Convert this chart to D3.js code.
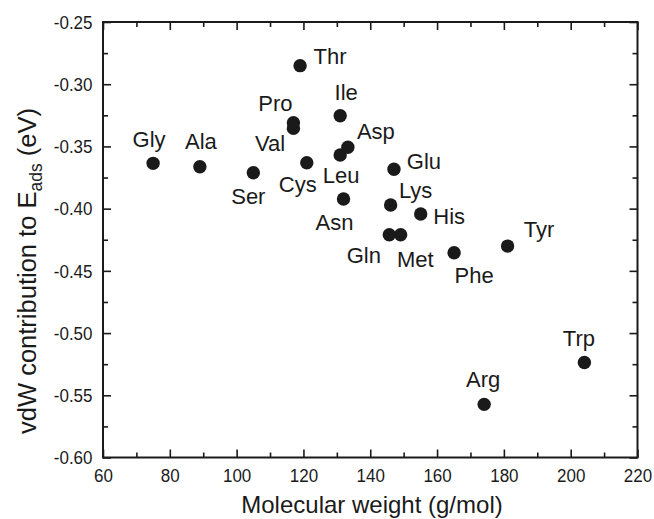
<!DOCTYPE html>
<html>
<head>
<meta charset="utf-8">
<script src="https://cdn.jsdelivr.net/npm/d3@7/dist/d3.min.js"></script>
<style>
  html, body { margin: 0; padding: 0; background: #fff; }
  svg { display: block; }
  text { font-family: "Liberation Sans", Arial, Helvetica, sans-serif; fill: #1a1a1a; }
</style>
</head>
<body>
<svg id="chart" width="654" height="519"></svg>
<script>
// ---- data ----
const aminoAcids = ["Gly","Ala","Ser","Pro","Val","Thr","Cys","Leu","Ile","Asn","Asp","Gln","Lys","Glu","Met","His","Phe","Arg","Tyr","Trp"];
const molecularWeight = [75, 89, 105, 117, 117, 119, 121, 131, 131, 132, 133.3, 145.7, 146.1, 147.1, 149.1, 155.1, 165.1, 174.1, 181.1, 204.1];
const vdwContribution = [-0.3636, -0.3663, -0.3711, -0.331, -0.3355, -0.2851, -0.3631, -0.3569, -0.3253, -0.3923, -0.3507, -0.421, -0.3971, -0.3684, -0.421, -0.4043, -0.4354, -0.5573, -0.4301, -0.5236];
const xTickValues = [60, 80, 100, 120, 140, 160, 180, 200, 220];
const yTickValues = [-0.25, -0.30, -0.35, -0.40, -0.45, -0.50, -0.55, -0.60];
const xTickLabels = ["60","80","100","120","140","160","180","200","220"];
const yTickLabels = ["-0.25","-0.30","-0.35","-0.40","-0.45","-0.50","-0.55","-0.60"];

// label placement offsets (pixels, relative to the dot), same order as aminoAcids
const labelOffsets = [
  [-4,-16.6],[1,-17.4],[-5,31.3],[-18,-12],[-23.3,22.4],[30,-2],[-9,29],[1,28.3],[6,-15.7],[-9,31],
  [28,-8],[-25.5,28],[25,-6.7],[30,0],[14.6,32],[28.5,10.3],[20,30],[-1,-17],[31.4,-9.3],[-5.5,-16.3]
];

// ---- layout ----
const svg = d3.select("#chart");
const L = 103, R = 637.5, T = 22, B = 457.5;
const x = d3.scaleLinear().domain([60, 220]).range([L, R]);
const y = d3.scaleLinear().domain([-0.60, -0.25]).range([B, T]);

const xMinor = d3.range(70, 220, 20);
const yMinor = d3.range(-0.575, -0.25, 0.05);
const col = "#1a1a1a";
const stretch = 1.12;

function styleAxis(g) {
  g.select(".domain").remove();
  g.selectAll(".tick line").attr("stroke", col).attr("stroke-width", 1.6);
}

// major ticks with labels (bottom/left), inward
svg.append("g").attr("transform", `translate(0,${B})`)
  .call(d3.axisBottom(x).tickValues(xTickValues).tickSizeInner(-8).tickSizeOuter(0).tickPadding(0)
        .tickFormat((d,i) => xTickLabels[i]))
  .call(styleAxis)
  .call(g => g.selectAll(".tick text").attr("y", 24.3 / stretch).attr("dy", null).attr("fill", col)
        .attr("transform", `scale(1,${stretch})`)
        .style("font-size", "17px").style("font-family", "'Liberation Sans', Arial, sans-serif"));

svg.append("g").attr("transform", `translate(${L},0)`)
  .call(d3.axisLeft(y).tickValues(yTickValues).tickSizeInner(-8).tickSizeOuter(0).tickPadding(0)
        .tickFormat((d,i) => yTickLabels[i]))
  .call(styleAxis)
  .call(g => g.selectAll(".tick text").attr("x", -10.5).attr("y", -0.6).attr("dy", "0.36em").attr("fill", col)
        .attr("transform", `scale(1,${stretch})`)
        .style("font-size", "17px").style("font-family", "'Liberation Sans', Arial, sans-serif"));

// mirrored ticks top/right
svg.append("g").attr("transform", `translate(0,${T})`)
  .call(d3.axisTop(x).tickValues(xTickValues).tickSizeInner(-8).tickSizeOuter(0).tickFormat(""))
  .call(styleAxis);
svg.append("g").attr("transform", `translate(${R},0)`)
  .call(d3.axisRight(y).tickValues(yTickValues).tickSizeInner(-8).tickSizeOuter(0).tickFormat(""))
  .call(styleAxis);

// minor ticks on all sides
[[d3.axisBottom, B], [d3.axisTop, T]].forEach(([fn, pos]) => {
  svg.append("g").attr("transform", `translate(0,${pos})`)
    .call(fn(x).tickValues(xMinor).tickSizeInner(-5).tickSizeOuter(0).tickFormat(""))
    .call(styleAxis);
});
[[d3.axisLeft, L], [d3.axisRight, R]].forEach(([fn, pos]) => {
  svg.append("g").attr("transform", `translate(${pos},0)`)
    .call(fn(y).tickValues(yMinor).tickSizeInner(-5).tickSizeOuter(0).tickFormat(""))
    .call(styleAxis);
});

// frame
svg.append("rect").attr("x", L).attr("y", T).attr("width", R - L).attr("height", B - T)
  .attr("fill", "none").attr("stroke", col).attr("stroke-width", 2);

// points
const data = aminoAcids.map((n, i) => ({ name: n, mw: molecularWeight[i], e: vdwContribution[i], off: labelOffsets[i] }));
svg.append("g").selectAll("circle").data(data).join("circle")
  .attr("cx", d => x(d.mw)).attr("cy", d => y(d.e)).attr("r", 6.7).attr("fill", col);

svg.append("g").selectAll("text").data(data).join("text")
  .attr("x", d => x(d.mw) + d.off[0]).attr("y", d => y(d.e) + d.off[1])
  .attr("text-anchor", "middle").style("font-size", "22px")
  .text(d => d.name);

// axis titles
svg.append("text").attr("x", 372).attr("y", 513).attr("text-anchor", "middle")
  .style("font-size", "24px").text("Molecular weight (g/mol)");

const yt = svg.append("text").attr("transform", "translate(36,271) rotate(-90)")
  .attr("text-anchor", "middle").style("font-size", "25.5px");
yt.append("tspan").text("vdW contribution to E");
yt.append("tspan").attr("dy", 5.5).style("font-size", "17.5px").text("ads");
yt.append("tspan").attr("dy", -5.5).text(" (eV)");
</script>
</body>
</html>
